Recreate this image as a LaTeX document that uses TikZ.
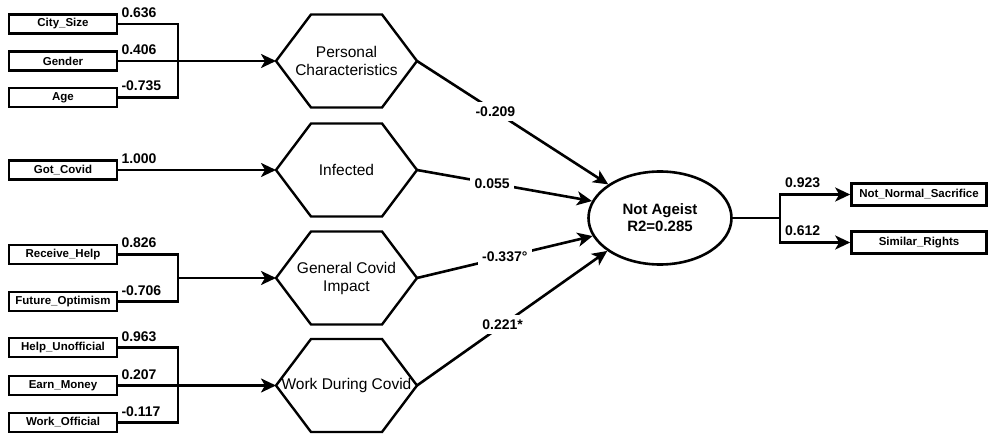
\documentclass[tikz,border=0pt]{standalone}
\usepackage{fontspec}
\setmainfont{Liberation Sans}
\usetikzlibrary{shapes.geometric,arrows.meta,calc}

\begin{document}
\begin{tikzpicture}[x=1pt,y=-1pt,
    ind/.style={draw, line width=2.6pt, minimum width=108pt, minimum height=19pt, inner sep=0pt,
      font=\fontsize{11.5}{13}\selectfont\bfseries},
    hexa/.style={minimum width=141pt, minimum height=93pt, outer sep=0pt, inner sep=0pt, align=center,
      font=\fontsize{15.5}{18}\selectfont},
    hexline/.style={line width=2.4pt, line join=miter},
    conn/.style={line width=2.6pt},
    arr/.style={conn, -{Stealth[length=15pt, width=14pt, inset=4pt]}},
    load/.style={font=\fontsize{14}{16}\selectfont\bfseries, inner sep=0pt, anchor=base west},
    coef/.style={font=\fontsize{14}{16}\selectfont\bfseries, fill=white, inner sep=4.5pt}]

        \useasboundingbox (0,0) rectangle (990,438);

        \node[ind] (cs) at (63,24) {City\_Size};
        \node[ind] (gen) at (63,61) {Gender};
        \node[ind] (age) at (63,97.5) {Age};
        \node[ind] (gcv) at (63,170) {Got\_Covid};
        \node[ind] (rh) at (63,254.5) {Receive\_Help};
        \node[ind] (fo) at (63,301.5) {Future\_Optimism};
        \node[ind] (hu) at (63,347.5) {Help\_Unofficial};
        \node[ind] (em) at (63,385.5) {Earn\_Money};
        \node[ind] (wo) at (63,422.5) {Work\_Official};

        \node[hexa] (pc) at (346.5,61) {Personal\\Characteristics};
        \node[hexa] (inf) at (346.5,170) {Infected};
        \node[hexa] (gci) at (346.5,278) {General Covid\\Impact};
        \node[hexa] (wdc) at (346.5,385.5) {Work During Covid};

        \foreach \h in {pc,inf,gci,wdc} {
          \draw[hexline] (\h.west) -- ([xshift=35pt]\h.north west) -- ([xshift=-35pt]\h.north east)
            -- (\h.east) -- ([xshift=-35pt]\h.south east) -- ([xshift=35pt]\h.south west) -- cycle;
        }

        \node[draw, ellipse, line width=2.6pt, minimum width=143pt, minimum height=93pt, inner sep=0pt,
          align=center, font=\fontsize{15}{17}\selectfont\bfseries] (na) at (660,218) {Not Ageist\\R2=0.285};

        \node[ind, minimum width=135pt, minimum height=22pt] (nns) at (919,194.5) {Not\_Normal\_Sacrifice};
        \node[ind, minimum width=135pt, minimum height=22pt] (sr) at (919,242.5) {Similar\_Rights};

        \coordinate (b1) at (178,61);
        \coordinate (b3) at (178,278);
        \coordinate (b4) at (178,385.5);
        \coordinate (br) at (780,218);

        \draw[conn, line join=miter] (cs.east) -| (b1) |- (age.east);
        \draw[arr] (gen.east) -- (pc.west);
        \draw[arr] (gcv.east) -- (inf.west);
        \draw[conn, line join=miter] (rh.east) -| (b3) |- (fo.east);
        \draw[arr] (b3) -- (gci.west);
        \draw[conn, line join=miter] (hu.east) -| (b4) |- (wo.east);
        \draw[arr] (em.east) -- (wdc.west);

        \node[load] (lcs) at ($(cs.east)+(3,-6.5)$) {0.636};
        \node[load] (lgen) at ($(gen.east)+(3,-6.5)$) {0.406};
        \node[load] (lage) at ($(age.east)+(3,-6.5)$) {-0.735};
        \node[load] (lgcv) at ($(gcv.east)+(3,-6.5)$) {1.000};
        \node[load] (lrh) at ($(rh.east)+(3,-6.5)$) {0.826};
        \node[load] (lfo) at ($(fo.east)+(3,-6.5)$) {-0.706};
        \node[load] (lhu) at ($(hu.east)+(3,-6.5)$) {0.963};
        \node[load] (lem) at ($(em.east)+(3,-6.5)$) {0.207};
        \node[load] (lwo) at ($(wo.east)+(3,-6.5)$) {-0.117};

        \draw[arr] (pc.east) -- node[coef, pos=0.41] {-0.209} (na.147);
        \draw[arr] (inf.east) -- node[coef, pos=0.43] {0.055} (na.166);
        \draw[arr] (gci.east) -- node[coef, pos=0.5] {-0.337°} (na.195);
        \draw[arr] (wdc.east) -- node[coef, pos=0.45] {0.221*} (na.212);

        \draw[conn] (na.east) -- (br);
        \draw[arr, line join=miter] (br) |- (nns.west);
        \draw[arr, line join=miter] (br) |- (sr.west);
        \node[load] (lnns) at ($(br |- nns.west)+(5,-6.5)$) {0.923};
        \node[load] (lsr) at ($(br |- sr.west)+(5,-6.5)$) {0.612};
      \end{tikzpicture}
\end{document}
